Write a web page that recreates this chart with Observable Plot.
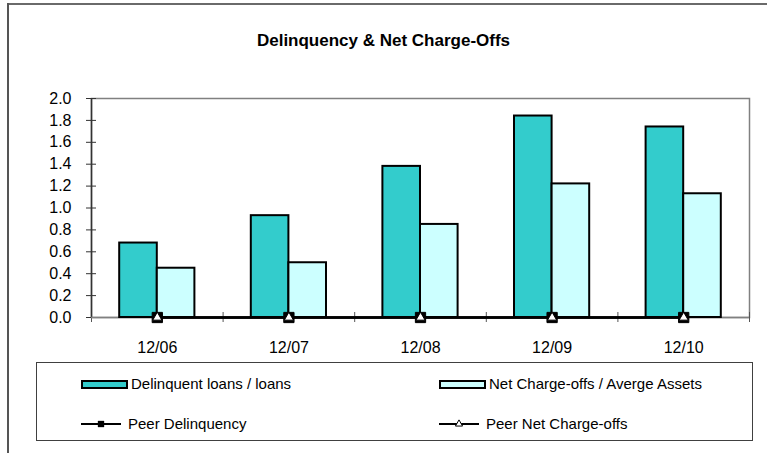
<!DOCTYPE html>
<html>
<head>
<meta charset="utf-8">
<script src="https://cdn.jsdelivr.net/npm/d3@7"></script>
<script src="https://cdn.jsdelivr.net/npm/@observablehq/plot@0.6"></script>
<style>
  body { margin: 0; background: #fff; }
  #wrap { position: relative; width: 767px; height: 453px; overflow: hidden; font-family: "Liberation Sans", Arial, sans-serif; color: #000; }
  #frameTop { position: absolute; left: 7px; top: 3px; width: 760px; height: 0; border-top: 2px solid #6a6a6a; }
  #frameLeft { position: absolute; left: 7px; top: 3px; width: 0; height: 450px; border-left: 2px solid #555; }
  #title { position: absolute; left: 0; width: 767px; top: 31px; text-align: center; font-weight: bold; font-size: 17px; }
  #chart { position: absolute; left: 0; top: 0; }
  #legend { position: absolute; left: 36px; top: 362px; width: 717px; height: 79px; border: 1px solid #404040; box-sizing: border-box; }
  .item { position: absolute; font-size: 15px; line-height: 16px; white-space: nowrap; }
  .sw { position: absolute; box-sizing: border-box; border: 2px solid #000; }
</style>
</head>
<body>
<div id="wrap">
  <div id="chart"></div>
  <div id="frameTop"></div>
  <div id="frameLeft"></div>
  <div id="title"></div>
  <div id="legend"></div>
</div>
<script>
// ---- data ----
const titleText = "Delinquency & Net Charge-Offs";
const categories = ["12/06", "12/07", "12/08", "12/09", "12/10"];
const delinquentLoans = [0.68, 0.93, 1.38, 1.84, 1.74];
const netChargeOffs = [0.45, 0.50, 0.85, 1.22, 1.13];
const peerDelinquency = [0, 0, 0, 0, 0];
const peerNetChargeOffs = [0, 0, 0, 0, 0];
const yTicks = [0, 0.2, 0.4, 0.6, 0.8, 1.0, 1.2, 1.4, 1.6, 1.8, 2.0];
const seriesNames = ["Delinquent loans / loans", "Net Charge-offs / Averge Assets", "Peer Delinquency", "Peer Net Charge-offs"];

// ---- styles ----
const darkFill = "#33CCCC";
const lightFill = "#CCFFFF";

const W = 767, H = 453;
const mL = 91, mR = 18, mT = 98, mB = 136;
const band = (W - mL - mR) / categories.length;
const barW = band * 0.2857;          // two bars ≈ 57% of the band
const outer = band / 2 - barW;

const rows = (vals) => categories.map((c, i) => ({cat: c, v: vals[i]}));
const dDel = rows(delinquentLoans);
const dNco = rows(netChargeOffs);
const dPeerDel = rows(peerDelinquency);
const dPeerNco = rows(peerNetChargeOffs);

document.getElementById("title").textContent = titleText;

const plot = Plot.plot({
  width: W, height: H,
  marginLeft: mL, marginRight: mR, marginTop: mT, marginBottom: mB,
  style: {fontFamily: "'Liberation Sans', Arial, sans-serif", fontSize: "16px", background: "transparent", color: "#000"},
  x: {type: "band", domain: categories, padding: 0, round: false},
  y: {domain: [0, 2], ticks: yTicks},
  marks: [
    Plot.frame({stroke: "#808080", strokeWidth: 1.5}),
    // category boundary ticks
    Plot.axisX({tickSize: 10, dy: -5, dx: -band / 2, text: null, stroke: "#555", label: null}),
    Plot.axisX([categories[categories.length - 1]], {tickSize: 10, dy: -5, dx: band / 2, text: null, stroke: "#555", label: null}),
    Plot.axisX({tickSize: 0, tickPadding: 24, fontSize: 16, label: null}),
    // y axis
    Plot.axisY({ticks: yTicks, tickSize: 0, tickPadding: 20, tickFormat: d3.format(".1f"), fontSize: 16, label: null}),
    Plot.axisY({ticks: yTicks, tickSize: 10, dx: 5, text: null, stroke: "#333", label: null}),
    Plot.ruleX([0], {x: () => categories[0], dx: -band / 2, y1: 0, y2: 2, stroke: "#333", strokeWidth: 1.5}),
    Plot.ruleY([0], {stroke: "#808080", strokeWidth: 1.5}),
    // bars
    Plot.barY(dDel, {x: "cat", y: "v", fill: darkFill, stroke: "#000", strokeWidth: 2, insetLeft: outer, insetRight: band - outer - barW}),
    Plot.barY(dNco, {x: "cat", y: "v", fill: lightFill, stroke: "#000", strokeWidth: 2, insetLeft: outer + barW, insetRight: outer}),
    // peer lines
    Plot.line(dPeerDel, {x: "cat", y: "v", stroke: "#000", strokeWidth: 2.5}),
    Plot.line(dPeerNco, {x: "cat", y: "v", stroke: "#000", strokeWidth: 2.5}),
    Plot.dot(dPeerDel, {x: "cat", y: "v", symbol: "square", r: 5.8, fill: "#000", stroke: "#000", strokeWidth: 1}),
    Plot.dot(dPeerNco, {x: "cat", y: "v", symbol: "triangle", r: 3.4, fill: "#fff", stroke: "#000", strokeWidth: 1})
  ]
});
document.getElementById("chart").appendChild(plot);

// ---- legend ----
const legend = document.getElementById("legend");
const L0 = 36, T0 = 362;
function barItem(x, y, fill, name) {
  const sw = document.createElement("div");
  sw.className = "sw";
  Object.assign(sw.style, {left: (x - L0) + "px", top: (y - T0 - 4) + "px", width: "47px", height: "9px", background: fill});
  legend.appendChild(sw);
  const t = document.createElement("div");
  t.className = "item";
  Object.assign(t.style, {left: (x - L0 + 50) + "px", top: (y - T0 - 8) + "px"});
  t.textContent = name;
  legend.appendChild(t);
}
function lineItem(x, y, symbol, name) {
  const ns = "http://www.w3.org/2000/svg";
  const s = document.createElementNS(ns, "svg");
  s.setAttribute("width", 42); s.setAttribute("height", 14);
  Object.assign(s.style, {position: "absolute", left: (x - L0) + "px", top: (y - T0 - 7) + "px"});
  const ln = document.createElementNS(ns, "line");
  ln.setAttribute("x1", 0); ln.setAttribute("x2", 40); ln.setAttribute("y1", 7); ln.setAttribute("y2", 7);
  ln.setAttribute("stroke", "#000"); ln.setAttribute("stroke-width", 2);
  s.appendChild(ln);
  const p = document.createElementNS(ns, "path");
  if (symbol === "square") {
    p.setAttribute("d", d3.symbol(d3.symbolSquare, 40)());
    p.setAttribute("fill", "#000");
  } else {
    p.setAttribute("d", d3.symbol(d3.symbolTriangle, 22)());
    p.setAttribute("fill", "#fff"); p.setAttribute("stroke", "#000"); p.setAttribute("stroke-width", 1);
  }
  p.setAttribute("transform", "translate(20,7)");
  s.appendChild(p);
  legend.appendChild(s);
  const t = document.createElement("div");
  t.className = "item";
  Object.assign(t.style, {left: (x - L0 + 47) + "px", top: (y - T0 - 8) + "px"});
  t.textContent = name;
  legend.appendChild(t);
}
barItem(80, 383, darkFill, seriesNames[0]);
barItem(438, 383, lightFill, seriesNames[1]);
lineItem(80, 423, "square", seriesNames[2]);
lineItem(438, 423, "triangle", seriesNames[3]);
</script>
</body>
</html>
